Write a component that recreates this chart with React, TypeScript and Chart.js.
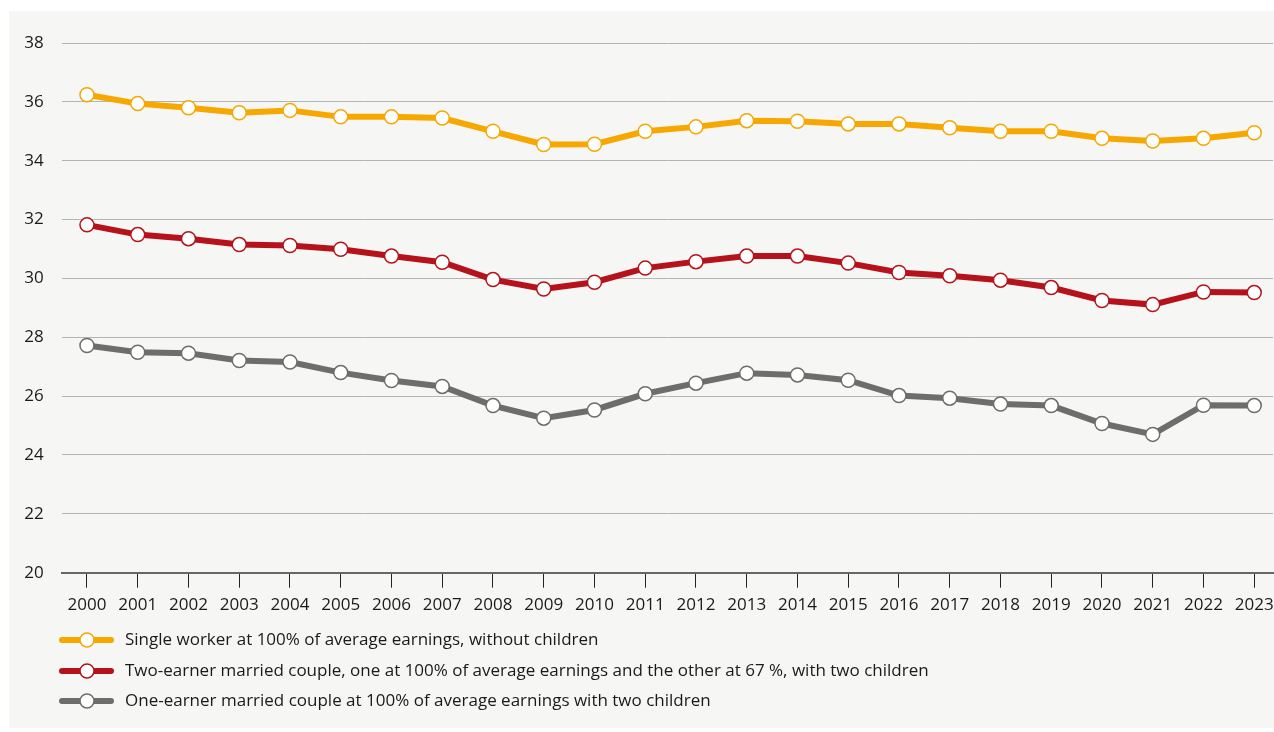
import React, { useEffect, useRef } from "react";
import { Chart, registerables } from "chart.js";

Chart.register(...registerables);

const years = [2000, 2001, 2002, 2003, 2004, 2005, 2006, 2007, 2008, 2009, 2010, 2011, 2012, 2013, 2014, 2015, 2016, 2017, 2018, 2019, 2020, 2021, 2022, 2023];

const singleWorker = [36.24, 35.94, 35.8, 35.63, 35.71, 35.49, 35.49, 35.45, 35.0, 34.55, 34.56, 35.0, 35.15, 35.36, 35.34, 35.25, 35.25, 35.12, 35.0, 35.0, 34.76, 34.67, 34.76, 34.95];
const twoEarner = [31.82, 31.49, 31.35, 31.15, 31.12, 30.99, 30.76, 30.55, 29.96, 29.64, 29.87, 30.35, 30.57, 30.76, 30.76, 30.52, 30.2, 30.09, 29.94, 29.69, 29.25, 29.11, 29.54, 29.52];
const oneEarner = [27.72, 27.49, 27.46, 27.21, 27.16, 26.8, 26.53, 26.33, 25.68, 25.25, 25.53, 26.08, 26.44, 26.78, 26.72, 26.54, 26.02, 25.93, 25.73, 25.68, 25.07, 24.7, 25.69, 25.68];

const seriesLabels = [
  "Single worker at 100% of average earnings, without children",
  "Two-earner married couple, one at 100% of average earnings and the other at 67 %, with two children",
  "One-earner married couple at 100% of average earnings with two children",
];
const seriesColors = ["#f6a800", "#b5121b", "#6d6d6b"];

const yTicks = [20, 22, 24, 26, 28, 30, 32, 34, 36, 38];

const FONT = "'Open Sans', sans-serif";

const panelPlugin = {
  id: "panel",
  beforeDraw(chart: any) {
    const ctx = chart.ctx;
    ctx.save();
    ctx.fillStyle = "#ffffff";
    ctx.fillRect(0, 0, chart.width, chart.height);
    ctx.fillStyle = "#f6f6f4";
    ctx.fillRect(9, 11, chart.width - 9, 717);
    ctx.restore();
  },
};

const legendPlugin = {
  id: "customLegend",
  afterDraw(chart: any) {
    const ctx = chart.ctx;
    ctx.save();
    const ys = [640, 671, 701];
    chart.data.datasets.forEach((ds: any, i: number) => {
      const y = ys[i];
      ctx.strokeStyle = ds.borderColor;
      ctx.lineWidth = 6;
      ctx.lineCap = "round";
      ctx.beginPath();
      ctx.moveTo(62, y);
      ctx.lineTo(111, y);
      ctx.stroke();
      ctx.beginPath();
      ctx.arc(87, y, 7, 0, Math.PI * 2);
      ctx.fillStyle = "#ffffff";
      ctx.fill();
      ctx.lineWidth = 1.5;
      ctx.stroke();
      ctx.fillStyle = "#1a1a1a";
      ctx.font = `17px ${FONT}`;
      ctx.textBaseline = "middle";
      ctx.textAlign = "left";
      ctx.fillText(ds.label, 125, y);
    });
    ctx.restore();
  },
};

export default function App() {
  const ref = useRef<HTMLCanvasElement | null>(null);
  useEffect(() => {
    if (!ref.current) return;
    const mk = (data: number[], i: number) => ({
      label: seriesLabels[i],
      data: data.map((v, k) => ({ x: years[k], y: v })),
      borderColor: seriesColors[i],
      backgroundColor: seriesColors[i],
      borderWidth: 6,
      pointRadius: 7,
      pointBorderWidth: 1.5,
      pointBackgroundColor: "#ffffff",
      pointBorderColor: seriesColors[i],
      tension: 0,
      clip: false,
    });
    const chart = new Chart(ref.current, {
      type: "line",
      data: {
        datasets: [mk(singleWorker, 0), mk(twoEarner, 1), mk(oneEarner, 2)],
      },
      options: {
        animation: false,
        responsive: false,
        maintainAspectRatio: false,
        layout: { autoPadding: false, padding: { top: 43, right: 1, left: 0, bottom: 0 } },
        plugins: { legend: { display: false }, tooltip: { enabled: false } },
        scales: {
          x: {
            type: "linear",
            min: 1999.5,
            max: 2023.37,
            afterFit: (s: any) => {
              s.height = 159.3;
              s.paddingLeft = 0;
              s.paddingRight = 0;
            },
            afterBuildTicks: (s: any) => {
              s.ticks = years.map((v) => ({ value: v }));
            },
            ticks: {
              callback: (v: any) => String(v),
              color: "#1a1a1a",
              font: { family: FONT, size: 17, lineHeight: 2.0 },
              padding: 0,
              maxRotation: 0,
              autoSkip: false,
            },
            grid: {
              drawOnChartArea: false,
              drawTicks: true,
              tickLength: 15,
              color: "#222222",
              lineWidth: 1,
            },
            border: { display: true, color: "#666666", width: 2 },
          },
          y: {
            min: 20,
            max: 38,
            afterFit: (s: any) => {
              s.width = 61.6;
              s.paddingTop = 0;
              s.paddingBottom = 0;
            },
            afterBuildTicks: (s: any) => {
              s.ticks = yTicks.map((v) => ({ value: v }));
            },
            ticks: {
              color: "#1a1a1a",
              font: { family: FONT, size: 17 },
              padding: 18,
            },
            grid: { drawTicks: false, color: "#b4b4b4", lineWidth: 1 },
            border: { display: false },
          },
        },
      },
      plugins: [panelPlugin, legendPlugin],
    } as any);
    return () => chart.destroy();
  }, []);
  return (
    <div style={{ position: "absolute", left: 0, top: 0, width: 1274, height: 732 }}>
      <canvas ref={ref} width={1274} height={732} style={{ width: 1274, height: 732 }} />
    </div>
  );
}
